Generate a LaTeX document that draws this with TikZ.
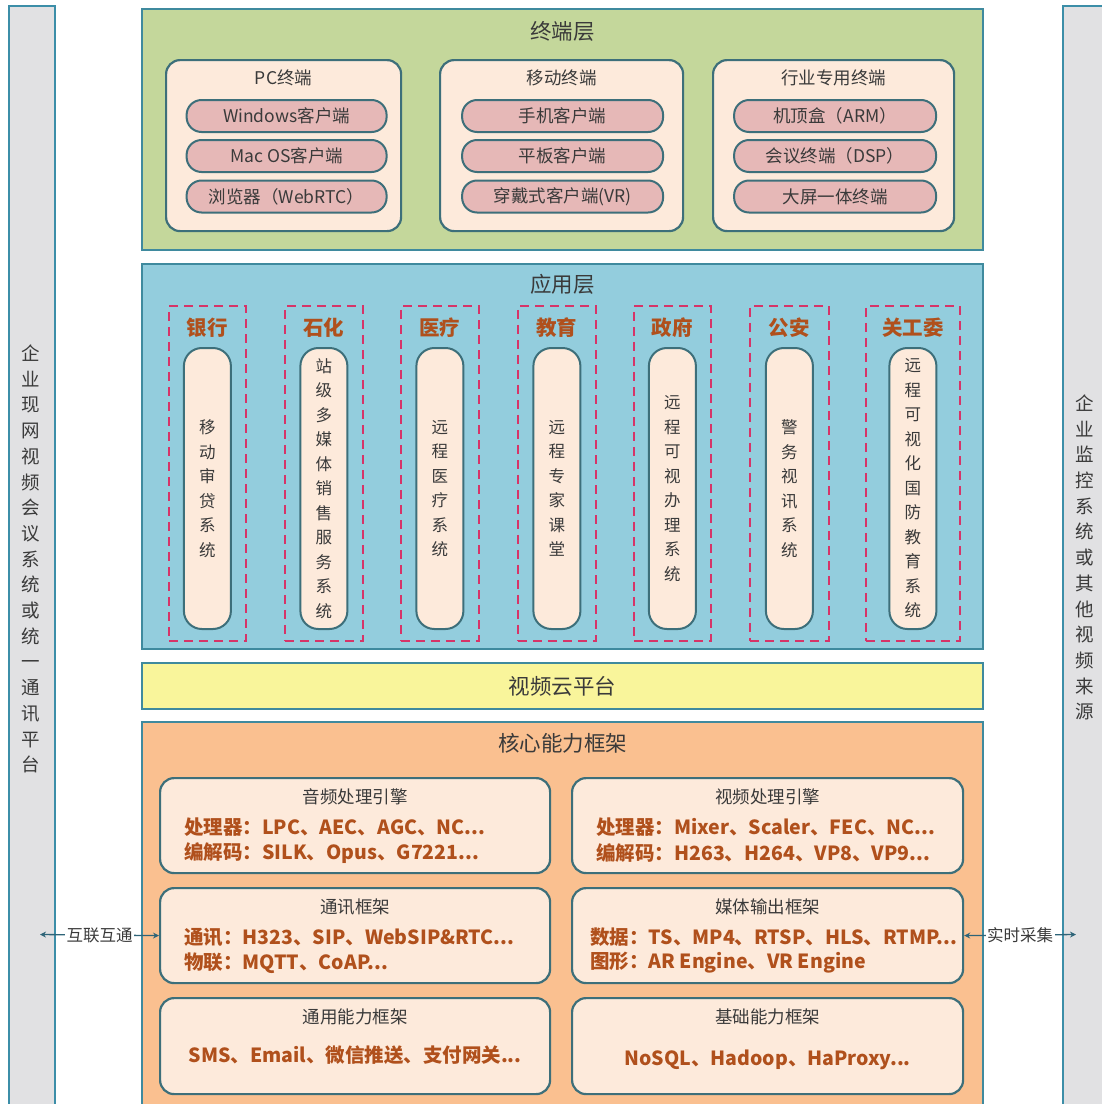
\documentclass[tikz,border=0pt]{standalone}
\usepackage{fontspec}
\setmainfont{Noto Sans CJK SC}
\usetikzlibrary{arrows.meta,calc}
\definecolor{sidefill}{HTML}{E1E1E3}
\definecolor{sidebd}{HTML}{3C8EA8}
\definecolor{greenfill}{HTML}{C4D79B}
\definecolor{laybd}{HTML}{3F8A9E}
\definecolor{peach}{HTML}{FDEADB}
\definecolor{inbd}{HTML}{3D6F7A}
\definecolor{pinkfill}{HTML}{E6B8B7}
\definecolor{bluefill}{HTML}{93CDDD}
\definecolor{dashred}{HTML}{D63468}
\definecolor{yellowfill}{HTML}{F9F59B}
\definecolor{orangefill}{HTML}{FAC090}
\definecolor{txtgray}{HTML}{3A3A3A}
\definecolor{brown}{HTML}{B0501C}
\definecolor{arrowc}{HTML}{2E6478}
\begin{document}
\begin{tikzpicture}[x=1pt,y=-1pt,
  layer/.style={draw=laybd,line width=2pt,anchor=north west,inner sep=0pt},
  sidebar/.style={draw=sidebd,line width=2pt,fill=sidefill,anchor=north west,inner sep=0pt,minimum width=46,minimum height=1120},
  rbox/.style={draw=inbd,line width=2.2pt,rounded corners=14pt,fill=peach,anchor=north west,inner sep=0pt},
  pill/.style={draw=inbd,line width=2pt,fill=pinkfill,rounded corners=15pt,minimum height=32,inner sep=0pt,font=\fontsize{17.5}{19}\selectfont,text=txtgray},
  dbox/.style={draw=dashred,line width=1.8pt,dash pattern=on 9pt off 6pt,anchor=north west,inner sep=0pt,minimum height=335},
  apill/.style={draw=inbd,line width=2pt,fill=peach,rounded corners=18pt,inner sep=0pt,minimum width=47,minimum height=281,anchor=north},
  vtext/.style={align=center,font=\fontsize{16.5}{24.5}\selectfont,text=txtgray,inner sep=0pt},
  sidetext/.style={align=center,font=\fontsize{18.5}{25.7}\selectfont,text=txtgray,inner sep=0pt},
  title/.style={font=\fontsize{21.5}{23}\selectfont,text=txtgray,inner sep=0pt},
  subtitle/.style={font=\fontsize{17.5}{19}\selectfont,text=txtgray,inner sep=0pt},
  lab/.style={font=\bfseries\fontsize{20.5}{22}\selectfont,text=brown,inner sep=0pt},
  bline/.style={font=\bfseries\fontsize{19.5}{21}\selectfont,text=brown,inner sep=0pt,anchor=west},
  arr/.style={draw=arrowc,line width=1.3pt,{Stealth[length=6pt,width=6pt]}-{Stealth[length=6pt,width=6pt]}},
  arrlab/.style={fill=white,inner sep=1.5pt,font=\fontsize{16.5}{18}\selectfont,text=txtgray}
]
\useasboundingbox (0,0) rectangle (1102,1104);
\fill[white] (0,0) rectangle (1102,1104);

% side bars
\node[sidebar] (lbar) at (8,5) {};
\node[sidebar] (rbar) at (1062,5) {};
\node[sidetext] (ltext) at (31,559) {企\\业\\现\\网\\视\\频\\会\\议\\系\\统\\或\\统\\一\\通\\讯\\平\\台};
\node[sidetext] (rtext) at (1085,557.5) {企\\业\\监\\控\\系\\统\\或\\其\\他\\视\\频\\来\\源};

% terminal layer
\node[layer,fill=greenfill,minimum width=841,minimum height=241] (term) at (141,8) {};
\node[title] (termt) at ($(term.north)+(0,23)$) {终端层};
\node[rbox,minimum width=235,minimum height=171] (pc) at (165,59) {};
\node[rbox,minimum width=243,minimum height=171] (mob) at (439,59) {};
\node[rbox,minimum width=241,minimum height=171] (ind) at (712,59) {};
\node[subtitle] (pct) at ($(pc.north)+(0,19)$) {PC终端};
\node[subtitle] (mobt) at ($(mob.north)+(0,19)$) {移动终端};
\node[subtitle] (indt) at ($(ind.north)+(0,19)$) {行业专用终端};
\node[pill,minimum width=200] (pc1) at ($(pc.north)+(3,57)$) {Windows客户端};
\node[pill,minimum width=200] (pc2) at ($(pc.north)+(3,97)$) {Mac OS客户端};
\node[pill,minimum width=200] (pc3) at ($(pc.north)+(3,137.5)$) {浏览器（WebRTC）};
\node[pill,minimum width=201] (mob1) at ($(mob.north)+(1,57)$) {手机客户端};
\node[pill,minimum width=201] (mob2) at ($(mob.north)+(1,97)$) {平板客户端};
\node[pill,minimum width=201] (mob3) at ($(mob.north)+(1,137.5)$) {穿戴式客户端(VR)};
\node[pill,minimum width=202] (ind1) at ($(ind.north)+(1.5,57)$) {机顶盒（ARM）};
\node[pill,minimum width=202] (ind2) at ($(ind.north)+(1.5,97)$) {会议终端（DSP）};
\node[pill,minimum width=202] (ind3) at ($(ind.north)+(1.5,137.5)$) {大屏一体终端};

% application layer
\node[layer,fill=bluefill,minimum width=841,minimum height=385] (app) at (141,263) {};
\node[title] (appt) at ($(app.north)+(0,21)$) {应用层};
\foreach \i/\xa/\xb/\lab/\txt in {
  a/168/245/银行/{移\\动\\审\\贷\\系\\统},
  b/284/362/石化/{站\\级\\多\\媒\\体\\销\\售\\服\\务\\系\\统},
  c/400/478/医疗/{远\\程\\医\\疗\\系\\统},
  d/517/595/教育/{远\\程\\专\\家\\课\\堂},
  e/633/710/政府/{远\\程\\可\\视\\办\\理\\系\\统},
  f/749/828/公安/{警\\务\\视\\讯\\系\\统},
  g/865/959/关工委/{远\\程\\可\\视\\化\\国\\防\\教\\育\\系\\统}} {
  \node[dbox,minimum width={\xb-\xa}] (d\i) at (\xa,305) {};
  \node[lab] (l\i) at ($(d\i.north)+(0,23)$) {\lab};
  \node[apill] (p\i) at ($(d\i.north)+(0,42)$) {};
  \node[vtext] (t\i) at (p\i) {\txt};
}

% video cloud platform
\node[layer,fill=yellowfill,minimum width=841,minimum height=46] (cloud) at (141,662) {};
\node[title] (cloudt) at (cloud) {视频云平台};

% core framework
\node[layer,fill=orangefill,minimum width=841,minimum height=400] (core) at (141,721) {};
\node[title] (coret) at ($(core.north)+(0,22)$) {核心能力框架};

\node[rbox,minimum width=390,minimum height=95] (audio) at (159,777) {};
\node[rbox,minimum width=391,minimum height=95] (video) at (571,777) {};
\node[rbox,minimum width=390,minimum height=95] (comm) at (159,887) {};
\node[rbox,minimum width=391,minimum height=95] (media) at (571,887) {};
\node[rbox,minimum width=390,minimum height=96] (gen) at (159,997) {};
\node[rbox,minimum width=391,minimum height=96] (base) at (571,997) {};

\node[subtitle] at ($(audio.north)+(0,20)$) {音频处理引擎};
\node[bline] at ($(audio.north west)+(25,50)$) {处理器：LPC、AEC、AGC、NC...};
\node[bline] at ($(audio.north west)+(25,76)$) {编解码：SILK、Opus、G7221...};

\node[subtitle] at ($(video.north)+(0,20)$) {视频处理引擎};
\node[bline] at ($(video.north west)+(25,50)$) {处理器：Mixer、Scaler、FEC、NC...};
\node[bline] at ($(video.north west)+(25,76)$) {编解码：H263、H264、VP8、VP9...};

\node[subtitle] at ($(comm.north)+(0,20)$) {通讯框架};
\node[bline] at ($(comm.north west)+(25,50)$) {通讯：H323、SIP、WebSIP\&RTC...};
\node[bline] at ($(comm.north west)+(25,76)$) {物联：MQTT、CoAP...};

\node[subtitle] at ($(media.north)+(0,20)$) {媒体输出框架};
\node[bline] at ($(media.north west)+(19,50)$) {数据：TS、MP4、RTSP、HLS、RTMP...};
\node[bline] at ($(media.north west)+(19,76)$) {图形：AR Engine、VR Engine};

\node[subtitle] at ($(gen.north)+(0,20)$) {通用能力框架};
\node[bline,anchor=center] at ($(gen.north)+(0,58)$) {SMS、Email、微信推送、支付网关...};

\node[subtitle] at ($(base.north)+(0,20)$) {基础能力框架};
\node[bline,anchor=center] at ($(base.north)+(0,63)$) {NoSQL、Hadoop、HaProxy...};

% connectors
\coordinate (la) at (40,934.5);
\coordinate (ra) at (1076,934.5);
\draw[arr] (la) -- node[arrlab] {互联互通} (comm.west);
\draw[arr] (media.east) -- node[arrlab] {实时采集} (ra);
\end{tikzpicture}
\end{document}
